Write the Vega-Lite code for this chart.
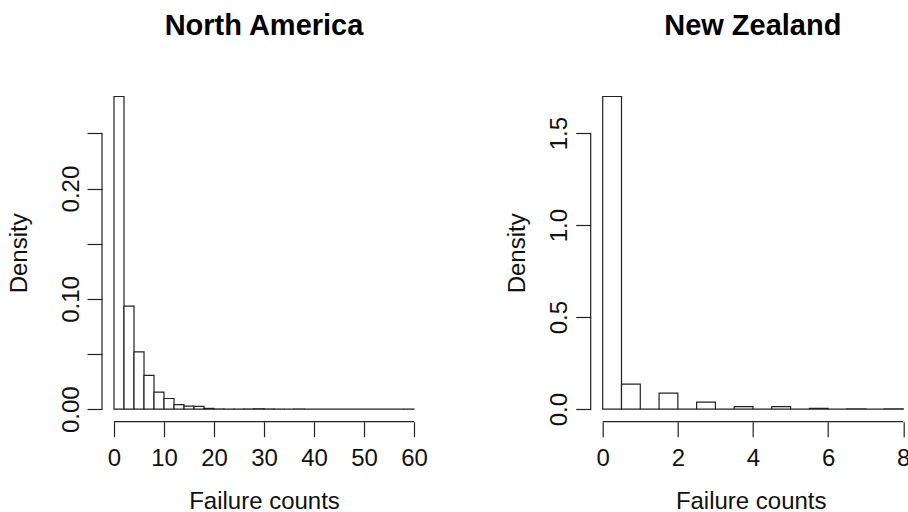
{
  "$schema": "https://vega.github.io/schema/vega-lite/v6.json",
  "background": "white",
  "padding": {"left": 6, "top": 12, "right": 0, "bottom": 0},
  "autosize": {"type": "pad"},
  "bounds": "flush",
  "spacing": 164.7,
  "config": {
    "view": {"stroke": null},
    "font": "Liberation Sans",
    "axis": {
      "domain": false, "grid": false, "ticks": true, "tickSize": 15, "tickColor": "#222", "tickWidth": 1.2,
      "labelFont": "Liberation Sans", "labelFontSize": 24, "labelColor": "#111", "labelOverlap": false, "labelFlush": false,
      "titleFont": "Liberation Sans", "titleFontSize": 24, "titleFontWeight": "normal", "titleColor": "#111"
    },
    "title": {"font": "Liberation Sans", "fontSize": 29, "fontWeight": "bold", "color": "#000", "anchor": "middle", "frame": "group", "baseline": "alphabetic", "offset": 43}
  },
  "datasets": {
    "na": [
      {"bin_start": 0, "bin_end": 2, "density": 0.2835},
      {"bin_start": 2, "bin_end": 4, "density": 0.0935},
      {"bin_start": 4, "bin_end": 6, "density": 0.052},
      {"bin_start": 6, "bin_end": 8, "density": 0.0306},
      {"bin_start": 8, "bin_end": 10, "density": 0.0154},
      {"bin_start": 10, "bin_end": 12, "density": 0.0097},
      {"bin_start": 12, "bin_end": 14, "density": 0.0042},
      {"bin_start": 14, "bin_end": 16, "density": 0.0027},
      {"bin_start": 16, "bin_end": 18, "density": 0.0025},
      {"bin_start": 18, "bin_end": 20, "density": 0.0007},
      {"bin_start": 20, "bin_end": 22, "density": 0.0002},
      {"bin_start": 22, "bin_end": 24, "density": 0.0001},
      {"bin_start": 24, "bin_end": 26, "density": 0.0001},
      {"bin_start": 26, "bin_end": 28, "density": 0.0002},
      {"bin_start": 28, "bin_end": 30, "density": 0.0004},
      {"bin_start": 30, "bin_end": 32, "density": 0.0002},
      {"bin_start": 32, "bin_end": 34, "density": 0.0001},
      {"bin_start": 34, "bin_end": 36, "density": 0},
      {"bin_start": 36, "bin_end": 38, "density": 0.0002},
      {"bin_start": 38, "bin_end": 40, "density": 0},
      {"bin_start": 40, "bin_end": 42, "density": 0},
      {"bin_start": 42, "bin_end": 44, "density": 0},
      {"bin_start": 44, "bin_end": 46, "density": 0},
      {"bin_start": 46, "bin_end": 48, "density": 0},
      {"bin_start": 48, "bin_end": 50, "density": 0},
      {"bin_start": 50, "bin_end": 52, "density": 0},
      {"bin_start": 52, "bin_end": 54, "density": 0},
      {"bin_start": 54, "bin_end": 56, "density": 0},
      {"bin_start": 56, "bin_end": 58, "density": 0},
      {"bin_start": 58, "bin_end": 60, "density": 0.0001}
    ],
    "nz": [
      {"bin_start": 0, "bin_end": 0.5, "density": 1.699},
      {"bin_start": 0.5, "bin_end": 1, "density": 0.136},
      {"bin_start": 1, "bin_end": 1.5, "density": 0},
      {"bin_start": 1.5, "bin_end": 2, "density": 0.087},
      {"bin_start": 2, "bin_end": 2.5, "density": 0},
      {"bin_start": 2.5, "bin_end": 3, "density": 0.038},
      {"bin_start": 3, "bin_end": 3.5, "density": 0},
      {"bin_start": 3.5, "bin_end": 4, "density": 0.014},
      {"bin_start": 4, "bin_end": 4.5, "density": 0},
      {"bin_start": 4.5, "bin_end": 5, "density": 0.014},
      {"bin_start": 5, "bin_end": 5.5, "density": 0},
      {"bin_start": 5.5, "bin_end": 6, "density": 0.004},
      {"bin_start": 6, "bin_end": 6.5, "density": 0},
      {"bin_start": 6.5, "bin_end": 7, "density": 0.002},
      {"bin_start": 7, "bin_end": 7.5, "density": 0},
      {"bin_start": 7.5, "bin_end": 8, "density": 0.002}
    ]
  },
  "hconcat": [
    {
      "title": "North America",
      "width": 324,
      "height": 337.7,
      "layer": [
        {
          "data": {"name": "na"},
          "mark": {"type": "rect", "fill": "white", "stroke": "#222", "strokeWidth": 1.2},
          "encoding": {
            "x": {
              "field": "bin_start", "type": "quantitative",
              "scale": {"domain": [-2.4, 62.4], "nice": false, "zero": false},
              "axis": {
                "values": [0, 10, 20, 30, 40, 50, 60], "format": "d",
                "labelAlign": "center", "labelBaseline": "alphabetic", "labelPadding": 29,
                "title": "Failure counts", "titleBaseline": "alphabetic", "titleAlign": "center", "titleX": 162, "titleY": 87
              }
            },
            "x2": {"field": "bin_end"},
            "y": {
              "field": "density", "type": "quantitative",
              "scale": {"domain": [-0.01134, 0.29484], "nice": false, "zero": false},
              "axis": {
                "values": [0, 0.05, 0.1, 0.15, 0.2, 0.25],
                "labelExpr": "round(datum.value * 100) % 10 == 0 ? format(datum.value, '.2f') : ''",
                "labelAngle": 270, "labelAlign": "center", "labelBaseline": "alphabetic", "labelPadding": 9,
                "title": "Density", "titleAngle": 270, "titleAlign": "center", "titleBaseline": "alphabetic", "titleX": -76, "titleY": 168.85
              }
            },
            "y2": {"datum": 0}
          }
        },
        {
          "data": {"values": [{}]},
          "mark": {"type": "rule", "stroke": "#222", "strokeWidth": 1.2},
          "encoding": {"x": {"datum": 0}, "x2": {"datum": 60}, "y": {"datum": -0.01134}}
        },
        {
          "data": {"values": [{}]},
          "mark": {"type": "rule", "stroke": "#222", "strokeWidth": 1.2},
          "encoding": {"x": {"datum": -2.4}, "y": {"datum": 0}, "y2": {"datum": 0.25}}
        }
      ]
    },
    {
      "title": {"text": "New Zealand", "dx": 3},
      "width": 318.2,
      "height": 337.7,
      "layer": [
        {
          "data": {"name": "nz"},
          "mark": {"type": "rect", "fill": "white", "stroke": "#222", "strokeWidth": 1.2},
          "encoding": {
            "x": {
              "field": "bin_start", "type": "quantitative",
              "scale": {"domain": [-0.32, 8.15], "nice": false, "zero": false},
              "axis": {
                "values": [0, 2, 4, 6, 8], "format": "d",
                "labelAlign": "center", "labelBaseline": "alphabetic", "labelPadding": 29,
                "title": "Failure counts", "titleBaseline": "alphabetic", "titleAlign": "center", "titleX": 160, "titleY": 87
              }
            },
            "x2": {"field": "bin_end"},
            "y": {
              "field": "density", "type": "quantitative",
              "scale": {"domain": [-0.06796, 1.76696], "nice": false, "zero": false},
              "axis": {
                "values": [0, 0.5, 1, 1.5], "format": ".1f",
                "labelAngle": 270, "labelAlign": "center", "labelBaseline": "alphabetic", "labelPadding": 9,
                "title": "Density", "titleAngle": 270, "titleAlign": "center", "titleBaseline": "alphabetic", "titleX": -65.7, "titleY": 168.85
              }
            },
            "y2": {"datum": 0}
          }
        },
        {
          "data": {"values": [{}]},
          "mark": {"type": "rule", "stroke": "#222", "strokeWidth": 1.2},
          "encoding": {"x": {"datum": 0}, "x2": {"datum": 8}, "y": {"datum": -0.06796}}
        },
        {
          "data": {"values": [{}]},
          "mark": {"type": "rule", "stroke": "#222", "strokeWidth": 1.2},
          "encoding": {"x": {"datum": -0.32}, "y": {"datum": 0}, "y2": {"datum": 1.5}}
        }
      ]
    }
  ]
}
